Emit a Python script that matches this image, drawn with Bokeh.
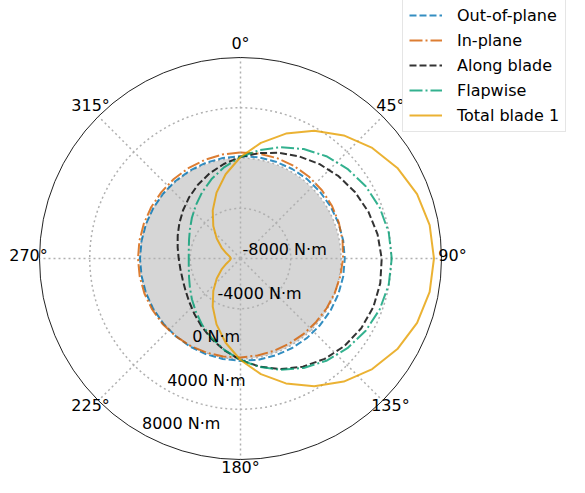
import numpy as np
from bokeh.plotting import figure
from bokeh.models import Legend, LegendItem
from bokeh.core.properties import value
from bokeh.embed import file_html
from bokeh.resources import INLINE

# ---- data (angles in degrees, clockwise from top; values in N·m) ----
angles_deg = list(range(0, 360, 10))
out_of_plane = [150, 180, 200, 230, 250, 260, 280, 290, 300, 300, 300, 290, 280, 260, 250, 230, 200, 180,
                150, 120, 100, 80, 50, 40, 20, 10, 0, 0, 0, 10, 20, 40, 50, 80, 100, 120]
in_plane = [440, 480, 500, 510, 490, 460, 400, 330, 250, 160, 70, -10, -80, -140, -170, -190, -180, -160,
            -120, -80, -30, 20, 60, 100, 120, 140, 150, 160, 170, 180, 200, 220, 260, 300, 350, 400]
along_blade = [80, 520, 950, 1380, 1800, 2190, 2540, 2840, 3080, 3240, 3300, 3260, 3100, 2820, 2430, 1940, 1370, 740,
               80, -580, -1210, -1780, -2270, -2660, -2940, -3100, -3140, -3080, -2920, -2680, -2380, -2030, -1640, -1220, -790, -360]
flapwise = [80, 770, 1430, 2060, 2630, 3110, 3510, 3800, 3980, 4040, 3980, 3800, 3510, 3110, 2630, 2060, 1430, 770,
            80, -610, -1270, -1900, -2470, -2950, -3350, -3640, -3820, -3880, -3820, -3640, -3350, -2950, -2470, -1900, -1270, -610]
total_blade_1 = [80, 1350, 2580, 3740, 4790, 5690, 6420, 6960, 7290, 7400, 7290, 6960, 6420, 5690, 4790, 3740, 2580, 1350,
                 80, -1190, -2420, -3580, -4630, -5530, -6260, -6800, -7130, -7240, -7130, -6800, -6260, -5530, -4630, -3580, -2420, -1190]

series_names = ["Out-of-plane", "In-plane", "Along blade", "Flapwise", "Total blade 1"]
series_values = [out_of_plane, in_plane, along_blade, flapwise, total_blade_1]
series_colors = ["#0072B2", "#D55E00", "#000000", "#009E73", "#E69F00"]
series_dashes = ["7 3", "13 3 2 3", "7 3", "13 3 2 3", "solid"]

r_ticks = [-8000, -4000, 0, 4000, 8000]
r_tick_labels = ["-8000 N·m", "-4000 N·m", "0 N·m", "4000 N·m", "8000 N·m"]
theta_ticks = [0, 45, 90, 135, 180, 225, 270, 315]
theta_tick_labels = ["0°", "45°", "90°", "135°", "180°", "225°", "270°", "315°"]

R_MIN, R_MAX = -8000.0, 8000.0
R_PX = 201.0
FONT = value("DejaVu Sans")


def rad(v):
    return (np.asarray(v, dtype=float) - R_MIN) / (R_MAX - R_MIN) * R_PX


def to_xy(theta_deg, vals):
    t = np.deg2rad(np.asarray(theta_deg, dtype=float))
    r = rad(vals)
    return r * np.sin(t), r * np.cos(t)


p = figure(width=569, height=477, x_range=(-240, 329), y_range=(-219, 258),
           x_axis_type=None, y_axis_type=None, toolbar_location=None,
           output_backend="svg", min_border=0)
p.outline_line_color = None
p.background_fill_color = "white"

# shaded region (values below 0 N·m)
p.circle(x=[0], y=[0], radius=float(rad(0)), fill_color="#d6d6d6", line_color=None)

# grid rings
for v in r_ticks[1:-1]:
    p.circle(x=[0], y=[0], radius=float(rad(v)), fill_color=None,
             line_color="#b0b0b0", line_width=1.5, line_dash="2 3")
# radial grid lines
tt = np.deg2rad(theta_ticks)
p.segment(x0=[0] * len(tt), y0=[0] * len(tt), x1=list(R_PX * np.sin(tt)), y1=list(R_PX * np.cos(tt)),
          line_color="#b0b0b0", line_width=1.5, line_dash="2 3")
# outer spine
p.circle(x=[0], y=[0], radius=R_PX, fill_color=None, line_color="#222222", line_width=1)

# curves
items = []
for name, vals, col, dash in zip(series_names, series_values, series_colors, series_dashes):
    xs, ys = to_xy(angles_deg + [angles_deg[0] + 360], vals + [vals[0]])
    rr = p.line(list(xs), list(ys), line_color=col, line_width=2, line_alpha=0.8, line_dash=dash)
    items.append(LegendItem(label=name, renderers=[rr]))

# angular labels
lab_r = R_PX + 11
p.text(x=list(lab_r * np.sin(tt)), y=list(lab_r * np.cos(tt) + 3), text=theta_tick_labels,
       text_align="center", text_baseline="middle", text_font=FONT, text_font_size="16px",
       text_color="black")

# radial labels along 210 degrees
la = np.deg2rad(210)
rl = rad(r_ticks)
p.text(x=list(rl * np.sin(la) + 2), y=list(rl * np.cos(la) + 9), text=r_tick_labels,
       text_align="left", text_baseline="middle", text_font=FONT, text_font_size="16px",
       text_color="black")

legend = Legend(items=items, location=(402, 345), orientation="vertical",
                label_text_font="DejaVu Sans", label_text_font_size="16px",
                label_text_color="black",
                glyph_width=33, glyph_height=20, label_height=20, label_standoff=15,
                spacing=5, padding=6, margin=0,
                border_line_color="#cccccc", border_line_width=1,
                background_fill_color="white", background_fill_alpha=0.8)
p.add_layout(legend)

open("out.html", "w").write(file_html(p, INLINE))
